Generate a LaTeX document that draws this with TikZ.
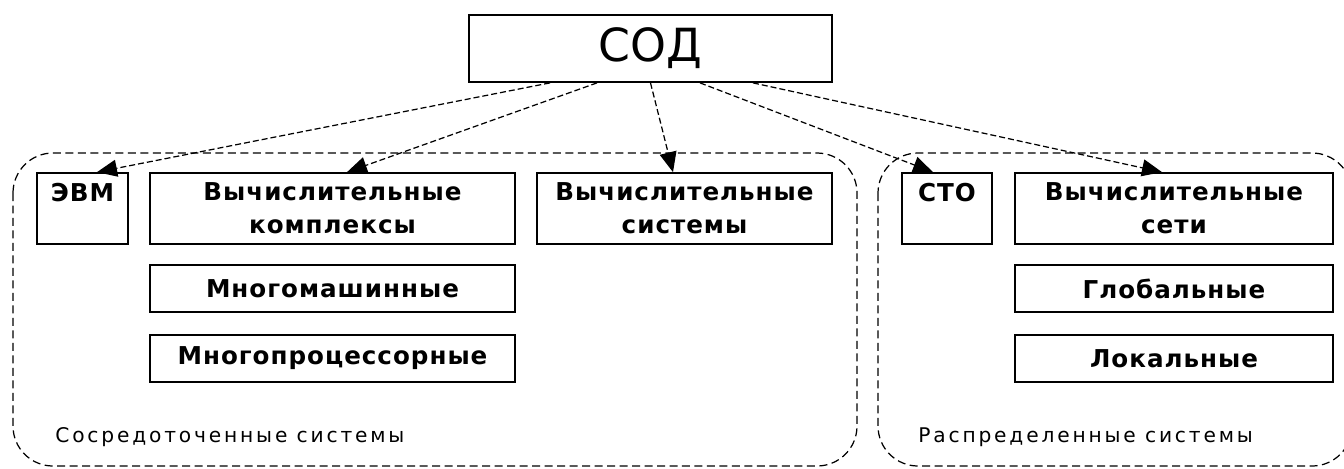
\documentclass[tikz,border=0pt]{standalone}
\usepackage{fontspec}
\setmainfont{DejaVu Sans}
\usetikzlibrary{arrows.meta}
\newcommand{\boxfont}{\fontsize{14}{18.7}\selectfont\bfseries}
\newcommand{\topfont}{\fontsize{26}{30}\selectfont}
\newcommand{\groupfont}{\fontsize{11.5}{13}\selectfont\addfontfeature{LetterSpace=14}}
\newcommand{\wide}{\addfontfeature{LetterSpace=4}}
\tikzset{
  box/.style={draw, line width=1pt, align=center, inner sep=0pt, font=\boxfont\wide},
  tallbox/.style={box, minimum height=14.2mm},
  flatbox/.style={box, minimum height=9.4mm},
  group/.style={draw, line width=0.7pt, dash pattern=on 1.6mm off 0.9mm, rounded corners=8mm},
  link/.style={draw, line width=0.7pt, dash pattern=on 1.2mm off 0.6mm,
    -{Triangle[length=4mm,width=3.4mm]}},
  grouplabel/.style={anchor=west, inner sep=0pt, font=\groupfont}
}

\begin{document}
\begin{tikzpicture}[x=0.02cm, y=-0.02cm]
\useasboundingbox (0,0) rectangle (1344,468);
% groups
\draw[group] (13,153) rectangle (857,466);
\draw[group] (878,153) rectangle (1352,466);
\node[grouplabel] (lgroup) at (55,437) {Сосредоточенные системы};
\node[grouplabel] (rgroup) at (918,437) {Распределенные системы};
% root
\node[draw, line width=1pt, minimum width=72.6mm, minimum height=13.4mm, font=\topfont] (sod) at (650.5,48.5) {СОД};
% left group
\node[tallbox, minimum width=18.2mm, text depth=6.6mm] (evm) at (82.5,208.5) {ЭВМ};
\node[tallbox, minimum width=73mm] (vk) at (332.5,208.5) {Вычислительные\\комплексы};
\node[flatbox, minimum width=73mm] (mm) at (332.5,288.5) {Многомашинные};
\node[flatbox, minimum width=73mm] (mp) at (332.5,358.5) {Многопроцессорные};
\node[tallbox, minimum width=59mm] (vs) at (684.5,208.5) {Вычислительные\\системы};
% right group
\node[tallbox, minimum width=18mm, text depth=6.6mm] (sto) at (947,208.5) {СТО};
\node[tallbox, minimum width=63.6mm] (vset) at (1174,208.5) {Вычислительные\\сети};
\node[flatbox, minimum width=63.6mm] (glob) at (1174,288.5) {Глобальные};
\node[flatbox, minimum width=63.6mm] (lok) at (1174,358.5) {Локальные};
% links
\draw[link] ([xshift=-2.01cm]sod.south) -- ([xshift=0.29cm]evm.north);
\draw[link] ([xshift=-1.07cm]sod.south) -- ([xshift=0.29cm]vk.north);
\draw[link] (sod.south) -- ([xshift=-0.23cm]vs.north);
\draw[link] ([xshift=0.99cm]sod.south) -- ([xshift=-0.28cm]sto.north);
\draw[link] ([xshift=2.05cm]sod.south) -- ([xshift=-0.24cm]vset.north);
\end{tikzpicture}
\end{document}
